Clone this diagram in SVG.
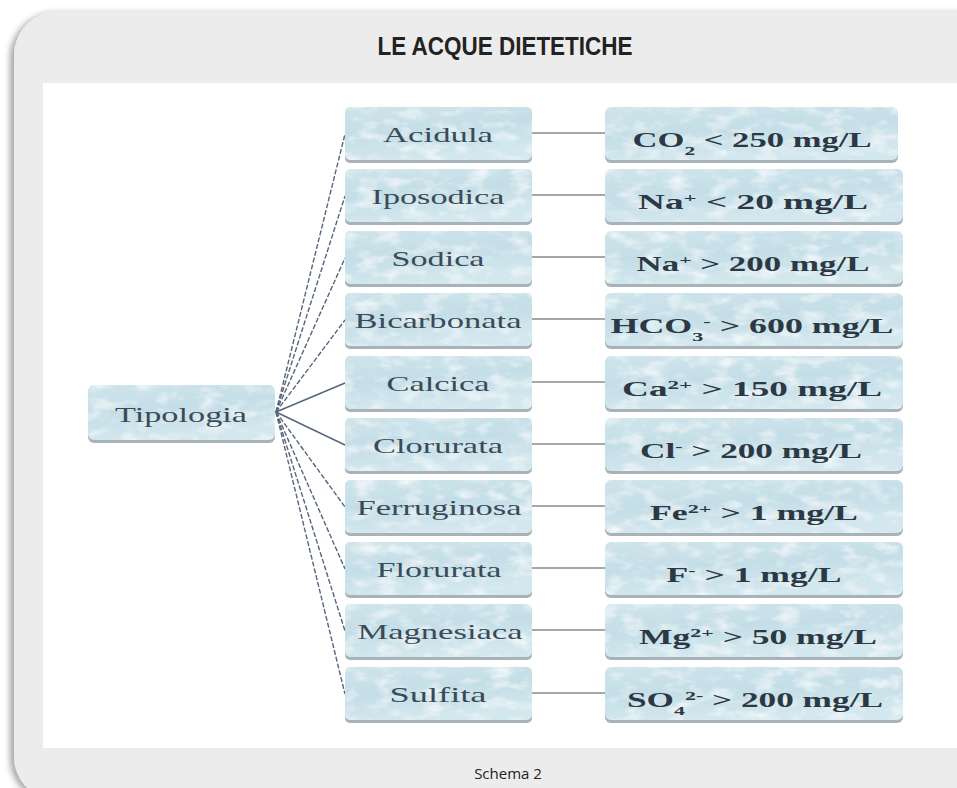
<svg xmlns="http://www.w3.org/2000/svg" width="957" height="788" viewBox="0 0 957 788">
<defs>
  <filter id="shadow" x="-5%" y="-5%" width="110%" height="110%">
    <feDropShadow dx="-4" dy="2" stdDeviation="3" flood-color="#000" flood-opacity="0.35"/>
  </filter>
  <filter id="tex" x="0" y="0" width="1" height="1">
    <feTurbulence type="fractalNoise" baseFrequency="0.045 0.09" numOctaves="3" seed="4" result="n"/>
    <feColorMatrix in="n" type="matrix" values="0 0 0 0 1  0 0 0 0 1  0 0 0 0 1  0 0 0 1.6 -0.75" result="w"/>
    <feComposite in="w" in2="SourceGraphic" operator="in" result="wm"/>
    <feMerge><feMergeNode in="SourceGraphic"/><feMergeNode in="wm"/></feMerge>
  </filter>
  <linearGradient id="boxg" x1="0" y1="0" x2="0.3" y2="1">
    <stop offset="0" stop-color="#cfe4eb"/>
    <stop offset="0.5" stop-color="#c4dee7"/>
    <stop offset="1" stop-color="#d3e7ee"/>
  </linearGradient>
  <style>
    .box { fill: url(#boxg); filter: url(#tex); }
    .bsh { fill: #a7b3b8; }
    .lt { font-family: "Liberation Serif", "Times New Roman", serif; font-size: 21px; fill: #3a4b57; text-anchor: middle; }
    .rt { font-family: "Liberation Serif", "Times New Roman", serif; font-size: 21px; font-weight: bold; fill: #2c3944; text-anchor: middle; }
    .sup { font-size: 13px; }
    .fan { fill: none; stroke: #56657c; stroke-width: 1.4; }
    .dash { stroke-dasharray: 5 2; }
    .hl { fill: none; stroke: #858b90; stroke-width: 1.4; }
  </style>
</defs>

<!-- frame -->
<rect x="14" y="11" width="1000" height="790" rx="45" fill="#ececec" filter="url(#shadow)"/>
<rect x="43" y="83" width="914" height="665" fill="#ffffff"/>
<text x="505" y="55" font-family="Liberation Sans, Arial, sans-serif" font-size="25" font-weight="bold" fill="#222" text-anchor="middle" textLength="255" lengthAdjust="spacingAndGlyphs">LE ACQUE DIETETICHE</text>
<text x="508" y="779" font-family="'Open Sans', 'Liberation Sans', sans-serif" font-size="15" fill="#222" text-anchor="middle">Schema 2</text>

<!-- connectors -->
<g id="connectors">
  <path class="fan dash" d="M276 412 L345 134"/>
  <path class="fan dash" d="M276 412 L345 196"/>
  <path class="fan dash" d="M276 412 L345 258"/>
  <path class="fan dash" d="M276 412 L345 320"/>
  <path class="fan" d="M276 412 L345 383"/>
  <path class="fan" d="M276 412 L345 445"/>
  <path class="fan dash" d="M276 412 L345 507"/>
  <path class="fan dash" d="M276 412 L345 569"/>
  <path class="fan dash" d="M276 412 L345 631"/>
  <path class="fan dash" d="M276 412 L345 694"/>
  <path class="hl" d="M532 133 H605"/>
  <path class="hl" d="M532 195 H605"/>
  <path class="hl" d="M532 257 H605"/>
  <path class="hl" d="M532 319 H605"/>
  <path class="hl" d="M532 382 H605"/>
  <path class="hl" d="M532 444 H605"/>
  <path class="hl" d="M532 506 H605"/>
  <path class="hl" d="M532 568 H605"/>
  <path class="hl" d="M532 630 H605"/>
  <path class="hl" d="M532 693 H605"/>
</g>

<g id="tipologia">
  <rect class="bsh" x="88" y="387" width="187" height="56" rx="6"/>
  <rect class="box" x="88" y="385" width="187" height="55" rx="6"/>
  <text class="lt" x="181" y="422" textLength="132" lengthAdjust="spacingAndGlyphs">Tipologia</text>
</g>

<g id="acidula">
  <rect class="bsh" x="345" y="109" width="187" height="54" rx="5"/>
  <rect class="box" x="345" y="107" width="187" height="53" rx="5"/>
  <text class="lt" x="438" y="142" textLength="110" lengthAdjust="spacingAndGlyphs">Acidula</text>
</g>
<g id="iposodica">
  <rect class="bsh" x="345" y="171" width="187" height="54" rx="5"/>
  <rect class="box" x="345" y="169" width="187" height="53" rx="5"/>
  <text class="lt" x="438" y="204" textLength="133" lengthAdjust="spacingAndGlyphs">Iposodica</text>
</g>
<g id="sodica">
  <rect class="bsh" x="345" y="233" width="187" height="54" rx="5"/>
  <rect class="box" x="345" y="231" width="187" height="53" rx="5"/>
  <text class="lt" x="438" y="266" textLength="93" lengthAdjust="spacingAndGlyphs">Sodica</text>
</g>
<g id="bicarbonata">
  <rect class="bsh" x="345" y="295" width="187" height="54" rx="5"/>
  <rect class="box" x="345" y="293" width="187" height="53" rx="5"/>
  <text class="lt" x="438" y="328" textLength="167" lengthAdjust="spacingAndGlyphs">Bicarbonata</text>
</g>
<g id="calcica">
  <rect class="bsh" x="345" y="358" width="187" height="54" rx="5"/>
  <rect class="box" x="345" y="356" width="187" height="53" rx="5"/>
  <text class="lt" x="438" y="391" textLength="103" lengthAdjust="spacingAndGlyphs">Calcica</text>
</g>
<g id="clorurata">
  <rect class="bsh" x="345" y="420" width="187" height="54" rx="5"/>
  <rect class="box" x="345" y="418" width="187" height="53" rx="5"/>
  <text class="lt" x="438" y="453" textLength="130" lengthAdjust="spacingAndGlyphs">Clorurata</text>
</g>
<g id="ferruginosa">
  <rect class="bsh" x="345" y="482" width="187" height="54" rx="5"/>
  <rect class="box" x="345" y="480" width="187" height="53" rx="5"/>
  <text class="lt" x="439" y="515" textLength="165" lengthAdjust="spacingAndGlyphs">Ferruginosa</text>
</g>
<g id="florurata">
  <rect class="bsh" x="345" y="544" width="187" height="54" rx="5"/>
  <rect class="box" x="345" y="542" width="187" height="53" rx="5"/>
  <text class="lt" x="439" y="577" textLength="125" lengthAdjust="spacingAndGlyphs">Florurata</text>
</g>
<g id="magnesiaca">
  <rect class="bsh" x="345" y="606" width="187" height="54" rx="5"/>
  <rect class="box" x="345" y="604" width="187" height="53" rx="5"/>
  <text class="lt" x="440" y="639" textLength="165" lengthAdjust="spacingAndGlyphs">Magnesiaca</text>
</g>
<g id="sulfita">
  <rect class="bsh" x="345" y="669" width="187" height="54" rx="5"/>
  <rect class="box" x="345" y="667" width="187" height="53" rx="5"/>
  <text class="lt" x="438" y="702" textLength="97" lengthAdjust="spacingAndGlyphs">Sulfita</text>
</g>

<g id="v-co2">
  <rect class="bsh" x="605" y="109" width="293" height="54" rx="6"/>
  <rect class="box" x="605" y="107" width="293" height="53" rx="6"/>
  <text class="rt" x="752" y="147" textLength="239" lengthAdjust="spacingAndGlyphs">CO<tspan class="sup" baseline-shift="sub">2</tspan> &lt; 250 mg/L</text>
</g>
<g id="v-na1">
  <rect class="bsh" x="605" y="171" width="298" height="54" rx="6"/>
  <rect class="box" x="605" y="169" width="298" height="53" rx="6"/>
  <text class="rt" x="753" y="209" textLength="230" lengthAdjust="spacingAndGlyphs">Na<tspan class="sup" baseline-shift="super">+</tspan> &lt; 20 mg/L</text>
</g>
<g id="v-na2">
  <rect class="bsh" x="605" y="233" width="298" height="54" rx="6"/>
  <rect class="box" x="605" y="231" width="298" height="53" rx="6"/>
  <text class="rt" x="753" y="271" textLength="233" lengthAdjust="spacingAndGlyphs">Na<tspan class="sup" baseline-shift="super">+</tspan> &gt; 200 mg/L</text>
</g>
<g id="v-hco3">
  <rect class="bsh" x="605" y="295" width="298" height="54" rx="6"/>
  <rect class="box" x="605" y="293" width="298" height="53" rx="6"/>
  <text class="rt" x="752" y="333" textLength="283" lengthAdjust="spacingAndGlyphs">HCO<tspan class="sup" baseline-shift="sub">3</tspan><tspan class="sup" baseline-shift="super">-</tspan> &gt; 600 mg/L</text>
</g>
<g id="v-ca">
  <rect class="bsh" x="605" y="358" width="298" height="54" rx="6"/>
  <rect class="box" x="605" y="356" width="298" height="53" rx="6"/>
  <text class="rt" x="752" y="396" textLength="260" lengthAdjust="spacingAndGlyphs">Ca<tspan class="sup" baseline-shift="super">2+</tspan> &gt; 150 mg/L</text>
</g>
<g id="v-cl">
  <rect class="bsh" x="605" y="420" width="298" height="54" rx="6"/>
  <rect class="box" x="605" y="418" width="298" height="53" rx="6"/>
  <text class="rt" x="751" y="458" textLength="222" lengthAdjust="spacingAndGlyphs">Cl<tspan class="sup" baseline-shift="super">-</tspan> &gt; 200 mg/L</text>
</g>
<g id="v-fe">
  <rect class="bsh" x="605" y="482" width="298" height="54" rx="6"/>
  <rect class="box" x="605" y="480" width="298" height="53" rx="6"/>
  <text class="rt" x="754" y="520" textLength="208" lengthAdjust="spacingAndGlyphs">Fe<tspan class="sup" baseline-shift="super">2+</tspan> &gt; 1 mg/L</text>
</g>
<g id="v-f">
  <rect class="bsh" x="605" y="544" width="298" height="54" rx="6"/>
  <rect class="box" x="605" y="542" width="298" height="53" rx="6"/>
  <text class="rt" x="754" y="582" textLength="175" lengthAdjust="spacingAndGlyphs">F<tspan class="sup" baseline-shift="super">-</tspan> &gt; 1 mg/L</text>
</g>
<g id="v-mg">
  <rect class="bsh" x="605" y="606" width="298" height="54" rx="6"/>
  <rect class="box" x="605" y="604" width="298" height="53" rx="6"/>
  <text class="rt" x="758" y="644" textLength="238" lengthAdjust="spacingAndGlyphs">Mg<tspan class="sup" baseline-shift="super">2+</tspan> &gt; 50 mg/L</text>
</g>
<g id="v-so4">
  <rect class="bsh" x="605" y="669" width="298" height="54" rx="6"/>
  <rect class="box" x="605" y="667" width="298" height="53" rx="6"/>
  <text class="rt" x="755" y="707" textLength="256" lengthAdjust="spacingAndGlyphs">SO<tspan class="sup" baseline-shift="sub">4</tspan><tspan class="sup" baseline-shift="super">2-</tspan> &gt; 200 mg/L</text>
</g>
</svg>
